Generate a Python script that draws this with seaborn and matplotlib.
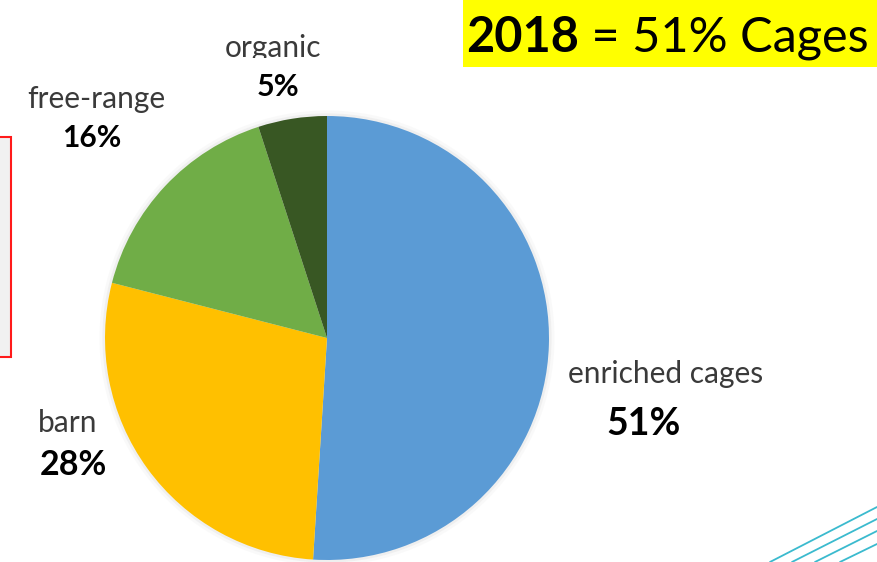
import matplotlib
matplotlib.use("Agg")
import matplotlib.pyplot as plt
from matplotlib.patches import Rectangle
from matplotlib.lines import Line2D
from matplotlib.transforms import Bbox
import seaborn as sns

# Laying-hen housing shares
categories = ["enriched cages", "barn", "free-range", "organic"]
shares = [51, 28, 16, 5]
share_labels = ["51%", "28%", "16%", "5%"]
title_year = "2018"
title_rest = " = 51% Cages"

sns.set_theme(style="white")
plt.rcParams["font.family"] = ["Lato", "DejaVu Sans"]

W, H = 877, 562
fig = plt.figure(figsize=(W / 100, H / 100), dpi=100)
fig.patch.set_facecolor("white")


def fx(x):
    return x / W


def fy(y):
    return 1 - y / H


palette = sns.color_palette(["#5B9BD5", "#FFC000", "#70AD47", "#385723"])

# pie centred at (327, 338) px with a 222 px radius
r = 222
pad = 1.05
ax = fig.add_axes([fx(327 - r * pad), fy(338 + r * pad), 2 * r * pad / W, 2 * r * pad / H])
ax.pie(shares, colors=palette, startangle=90, counterclock=False,
       radius=1.0, wedgeprops=dict(linewidth=0))
# soft halo around the pie
for k, a in [(1.012, 0.10), (1.025, 0.05)]:
    ax.add_patch(plt.Circle((0, 0), k, color="#9a9a9a", alpha=a, zorder=0, lw=0))
ax.set_xlim(-pad, pad)
ax.set_ylim(-pad, pad)
ax.set_aspect("equal")
ax.axis("off")

name_kw = dict(fontsize=21.5, color="#3a3a3a", ha="center", va="baseline")
pct_kw = dict(color="black", fontweight="bold", ha="center", va="baseline")

# category name and percentage anchor points (px, baseline) and label sizes
name_pos = [(666, 383), (68, 432), (96, 108), (273, 57)]
pct_pos = [(644, 435), (73, 475), (92, 147), (278, 96)]
pct_sizes = [27, 24.5, 21.5, 22]
for cat, lab, (nx, ny), (px, py), sz in zip(categories, share_labels,
                                            name_pos, pct_pos, pct_sizes):
    t = fig.text(fx(nx), fy(ny), cat, **name_kw)
    if cat == "organic":
        t.set_clip_on(True)
        t.set_clip_box(Bbox.from_extents(0, H - 58, W, H))
    fig.text(fx(px), fy(py), lab, fontsize=sz, **pct_kw)

# red-bordered panel at the left edge
fig.add_artist(Rectangle((fx(-20), fy(357)), fx(31), (357 - 137) / H,
                         transform=fig.transFigure, facecolor="#f1f1f1",
                         edgecolor="#ff1a1a", linewidth=1.5))

# yellow headline box
fig.add_artist(Rectangle((fx(463), fy(67)), fx(W - 463), 67 / H,
                         transform=fig.transFigure, facecolor="#FFFF00",
                         edgecolor="none"))
t1 = fig.text(fx(466), fy(52), title_year, fontsize=35, fontweight="bold",
              color="black", va="baseline", ha="left")
fig.canvas.draw()
ext = t1.get_window_extent(fig.canvas.get_renderer())
fig.text(ext.x1 / W, fy(52), title_rest, fontsize=35, color="black",
         va="baseline", ha="left")

# decorative teal swoosh in the lower-right corner
for x0, y1 in [(770, 507), (792, 519), (815, 531), (840, 544)]:
    fig.add_artist(Line2D([fx(x0), fx(877)], [fy(562), fy(y1)],
                          transform=fig.transFigure, color="#25b3c9",
                          linewidth=1.3, alpha=0.9))

fig.savefig("out.png", dpi=100, facecolor="white")
